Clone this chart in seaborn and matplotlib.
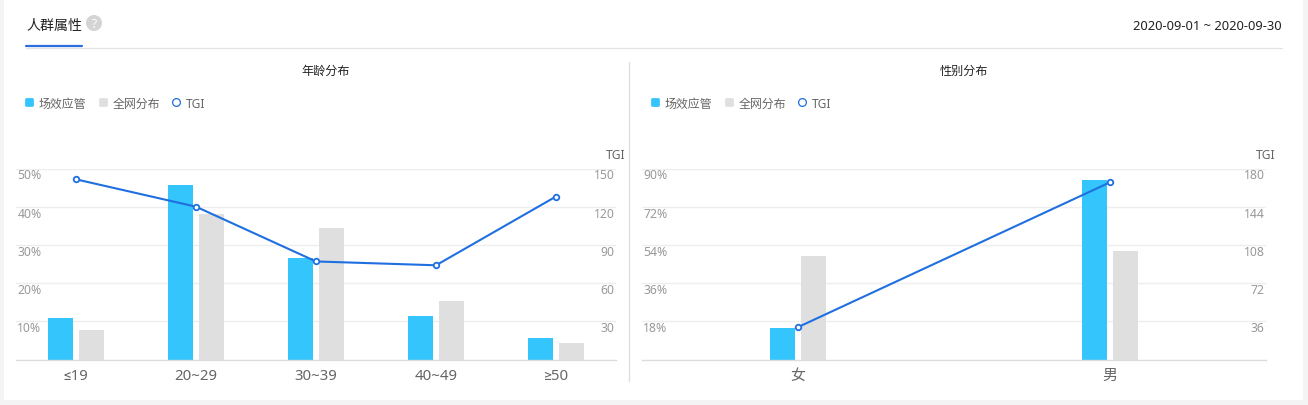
"""
Recreates the audience attribute panel: age and gender distribution
bars with a TGI line on a second axis.
"""

import matplotlib.pyplot as plt
import pandas as pd
import seaborn as sns
from matplotlib.lines import Line2D
from matplotlib.markers import MarkerStyle
from matplotlib.patches import Circle, Rectangle

W = 1308
H = 406

BLUE = '#33c5fb'
GREY = '#dfdfdf'
LINE = '#1f6fe0'
SERIES = ['场效应管', '全网分布']

AGE_LABELS = ['≤19', '20~29', '30~39', '40~49', '≥50']
AGE_FIELD = [10.9, 45.8, 26.7, 11.3, 5.5]
AGE_ALL = [7.6, 38.2, 34.5, 15.2, 4.2]
AGE_TGI = [141.5, 120, 77, 74, 128]
AGE_PCT_TICKS = [10, 20, 30, 40, 50]
AGE_TGI_TICKS = [30, 60, 90, 120, 150]

SEX_LABELS = ['女', '男']
SEX_FIELD = [15, 84.8]
SEX_ALL = [49, 51]
SEX_TGI = [30.5, 167]
SEX_PCT_TICKS = [18, 36, 54, 72, 90]
SEX_TGI_TICKS = [36, 72, 108, 144, 180]


def px_axes(fig, left, top, right, bottom):
    """
    Adds axes from pixel positions measured from the top left corner.
    """
    return fig.add_axes([left / W, 1 - bottom / H,
                         (right - left) / W, (bottom - top) / H])


def panel(fig, box, title, labels, field, overall, tgi, pct_ticks, tgi_ticks):
    """
    Draws one chart with its bars, TGI line, legend and axis texts.
    """
    ax = px_axes(fig, *box)
    data = pd.DataFrame({
        'group': labels * 2,
        'value': field + overall,
        'series': [SERIES[0]] * len(labels) + [SERIES[1]] * len(labels),
    })
    # width and gap are fractions of one category slot
    slot = (box[2] - box[0]) / len(labels)
    sns.barplot(data=data, x='group', y='value', hue='series', ax=ax,
                palette=[BLUE, GREY], width=62 / slot, gap=0.2,
                saturation=1, linewidth=0, legend=False, zorder=2)
    ax.set_xlim(-0.5, len(labels) - 0.5)
    ax.set_ylim(0, pct_ticks[-1])
    ax.set_xlabel('')
    ax.set_ylabel('')
    ax.set_yticks(pct_ticks)
    ax.set_yticklabels([f'{t}%' for t in pct_ticks])
    ax.grid(axis='y', color='#eeeeee', linewidth=1)
    ax.grid(axis='x', visible=False)
    ax.set_axisbelow(True)
    ax.tick_params(axis='y', length=0, pad=-1, labelsize=8.8,
                   labelcolor='#999999')
    ax.tick_params(axis='x', length=0, pad=6, labelsize=10.8,
                   labelcolor='#666666')
    for label in ax.get_yticklabels():
        label.set_ha('left')
        label.set_va('top')
    sns.despine(ax=ax, left=True)
    ax.spines['bottom'].set_color('#dcdcdc')
    ax.spines['bottom'].set_linewidth(1)

    ax2 = ax.twinx()
    sns.lineplot(x=list(range(len(labels))), y=tgi, ax=ax2, color=LINE,
                 linewidth=1.5, marker='o', markersize=4.0,
                 markerfacecolor='white', markeredgecolor=LINE,
                 markeredgewidth=1.3, clip_on=False, zorder=5)
    ax2.set_ylim(0, tgi_ticks[-1])
    ax2.set_yticks(tgi_ticks)
    ax2.grid(False)
    ax2.tick_params(axis='y', length=0, pad=-1, labelsize=8.8,
                    labelcolor='#999999')
    for label in ax2.get_yticklabels():
        label.set_ha('right')
        label.set_va('top')
    for spine in ax2.spines.values():
        spine.set_visible(False)

    left, top, right, bottom = box
    mid = (left + right) / 2 + 10
    fig.text(mid / W, 1 - 71 / H, title, ha='center', va='center',
             fontsize=8.7, color='#222222')
    fig.text((right + 9.5) / W, 1 - 155.5 / H, 'TGI', ha='right', va='center',
             fontsize=8.7, color='#666666')

    rounded = MarkerStyle('s', joinstyle='round')
    handles = [
        Line2D([], [], linestyle='', marker=rounded, markersize=5.0,
               color=BLUE, markeredgewidth=2),
        Line2D([], [], linestyle='', marker=rounded, markersize=5.0,
               color=GREY, markeredgewidth=2),
        Line2D([], [], linestyle='', marker='o', markersize=5.6,
               markerfacecolor='white', markeredgecolor=LINE,
               markeredgewidth=0.9),
    ]
    fig.legend(handles, SERIES + ['TGI'], ncol=3, frameon=False,
               loc='center left',
               bbox_to_anchor=((left + 7.5) / W, 1 - 104 / H),
               borderpad=0, borderaxespad=0, handlelength=0.9,
               handletextpad=0.4, columnspacing=0.89, fontsize=8.6,
               labelcolor='#666666')


def page(fig):
    """
    Draws the white card, the header and the divider behind the charts.
    """
    fig.patches.append(Rectangle((4 / W, 1 - 401 / H), 1299 / W, 400 / H,
                                 transform=fig.transFigure, color='white',
                                 linewidth=0, zorder=-5))
    fig.add_artist(Line2D([26 / W, 1282 / W], [1 - 48.5 / H] * 2,
                          color='#e3e3e3', linewidth=0.9))
    fig.add_artist(Line2D([26 / W, 82 / W], [1 - 47 / H] * 2,
                          color='#2a6fdb', linewidth=1.6))
    fig.add_artist(Line2D([628.5 / W] * 2, [1 - 62.5 / H, 1 - 382 / H],
                          color='#dcdcdc', linewidth=0.9))
    fig.add_artist(Circle((94 / W * fig.get_figwidth(),
                           (1 - 24 / H) * fig.get_figheight()),
                          8 / 100, color='#d4d4d4', linewidth=0,
                          transform=fig.dpi_scale_trans))
    fig.text(94 / W, 1 - 24 / H, '?', ha='center', va='center',
             fontsize=8.6, color='white', fontweight='bold')
    fig.text(26 / W, 1 - 26 / H, '人群属性', ha='left', va='center',
             fontsize=10.1, color='#222222')
    fig.text(1282 / W, 1 - 26 / H, '2020-09-01 ~ 2020-09-30', ha='right',
             va='center', fontsize=9.3, color='#222222')


def main():
    sns.set_theme(style='white')
    # Roboto supplies the upright ≤ and ≥ signs
    plt.rcParams['font.family'] = ['Noto Sans', 'Roboto', 'Noto Sans CJK SC',
                                   'DejaVu Sans']

    fig = plt.figure(figsize=(W / 100, H / 100), dpi=100,
                     facecolor='#f4f4f4')
    page(fig)
    panel(fig, (16, 169.5, 616, 360.5), '年龄分布', AGE_LABELS, AGE_FIELD,
          AGE_ALL, AGE_TGI, AGE_PCT_TICKS, AGE_TGI_TICKS)
    panel(fig, (642, 169.5, 1266, 360.5), '性别分布', SEX_LABELS, SEX_FIELD,
          SEX_ALL, SEX_TGI, SEX_PCT_TICKS, SEX_TGI_TICKS)
    fig.savefig('out.png', dpi=100, facecolor=fig.get_facecolor())


if __name__ == '__main__':
    main()
